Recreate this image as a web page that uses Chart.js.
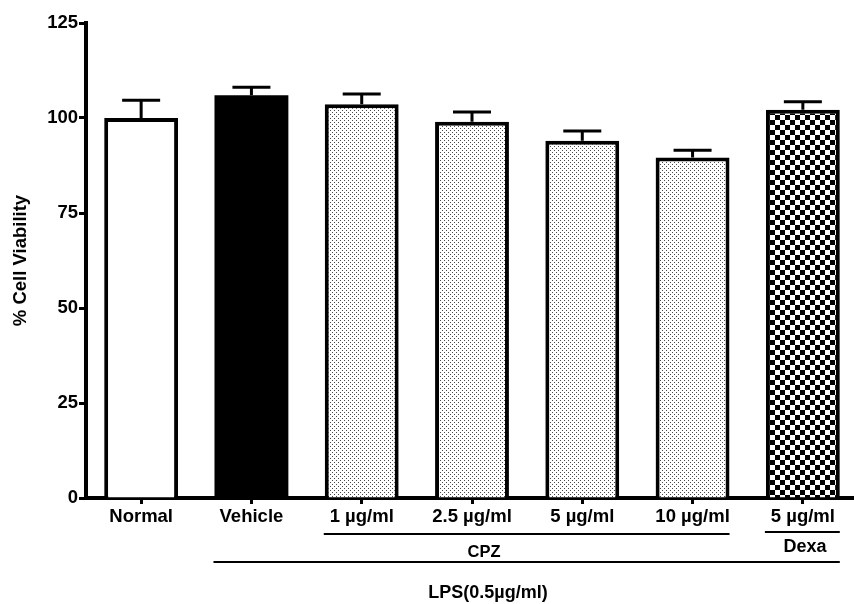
<!DOCTYPE html>
<html>
<head>
<meta charset="utf-8">
<script src="https://cdn.jsdelivr.net/npm/chart.js@4.4.0/dist/chart.umd.min.js"></script>
<style>
  html, body { margin: 0; padding: 0; background: #fff; overflow: hidden; width: 854px; height: 604px; }
  canvas { display: block; }
</style>
</head>
<body>
<canvas id="c" width="858" height="604"></canvas>
<script>
const categories = ["Normal", "Vehicle", "1 \u00b5g/ml", "2.5 \u00b5g/ml", "5 \u00b5g/ml", "10 \u00b5g/ml", "5 \u00b5g/ml"];
const viability = [100, 106, 103.6, 99, 94, 89.6, 102.2];
const errors = [4.7, 2.1, 2.7, 2.6, 2.6, 1.9, 2.1];
const yTicks = [0, 25, 50, 75, 100, 125];
const groupCPZ = { label: "CPZ", from: 2, to: 5 };
const groupDexa = { label: "Dexa", from: 6, to: 6 };
const groupLPS = { label: "LPS(0.5\u00b5g/ml)", from: 1, to: 6 };

const FONT = '"Liberation Sans", Arial, sans-serif';
const FS = 18.5;

function makeDots() {
  const c = document.createElement('canvas');
  c.width = 4; c.height = 4;
  const x = c.getContext('2d');
  x.fillStyle = '#fff'; x.fillRect(0, 0, 4, 4);
  x.fillStyle = '#4a4a4a';
  x.fillRect(0, 0, 1, 1);
  x.fillRect(2, 2, 1, 1);
  return x.createPattern(c, 'repeat');
}
function makeChecker() {
  const c = document.createElement('canvas');
  c.width = 10; c.height = 10;
  const x = c.getContext('2d');
  x.fillStyle = '#fff'; x.fillRect(0, 0, 10, 10);
  x.fillStyle = '#000';
  x.fillRect(0, 0, 5, 5);
  x.fillRect(5, 5, 5, 5);
  return x.createPattern(c, 'repeat');
}
const dots = makeDots();
const checker = makeChecker();
const fills = ['#ffffff', '#000000', dots, dots, dots, dots, checker];

const errorBars = {
  id: 'errorBars',
  afterDatasetsDraw(chart) {
    const ctx = chart.ctx;
    const meta = chart.getDatasetMeta(0);
    const ys = chart.scales.y;
    ctx.save();
    ctx.strokeStyle = '#000';
    ctx.lineWidth = 3;
    meta.data.forEach((bar, i) => {
      const top = ys.getPixelForValue(viability[i]);
      const hi = ys.getPixelForValue(viability[i] + errors[i]);
      ctx.beginPath();
      ctx.moveTo(bar.x, top);
      ctx.lineTo(bar.x, hi);
      ctx.moveTo(bar.x - 19, hi);
      ctx.lineTo(bar.x + 19, hi);
      ctx.stroke();
    });
    ctx.restore();
  }
};

const groups = {
  id: 'groups',
  afterDraw(chart) {
    const ctx = chart.ctx;
    const meta = chart.getDatasetMeta(0);
    const left = i => meta.data[i].x - meta.data[i].width / 2;
    const right = i => meta.data[i].x + meta.data[i].width / 2;
    ctx.save();
    ctx.strokeStyle = '#000';
    ctx.fillStyle = '#000';
    ctx.lineWidth = 2;
    ctx.textAlign = 'center';
    ctx.textBaseline = 'middle';
    const line = (g, y) => {
      ctx.beginPath();
      ctx.moveTo(left(g.from) - 1, y);
      ctx.lineTo(right(g.to), y);
      ctx.stroke();
    };
    line(groupCPZ, 534);
    line(groupDexa, 532);
    line(groupLPS, 562);
    ctx.font = 'bold 16.5px ' + FONT;
    ctx.fillText(groupCPZ.label, 484, 552);
    ctx.font = 'bold 18px ' + FONT;
    ctx.fillText(groupDexa.label, 805, 547);
    ctx.fillText(groupLPS.label, 488, 593);
    ctx.restore();
  }
};

new Chart(document.getElementById('c'), {
  type: 'bar',
  data: {
    labels: categories,
    datasets: [{
      data: viability,
      backgroundColor: fills,
      borderColor: '#000',
      borderWidth: [4, 0, 4, 4, 4, 4, 4],
      borderSkipped: 'bottom',
      barPercentage: 0.67,
      categoryPercentage: 1.0
    }]
  },
  options: {
    responsive: false,
    animation: false,
    devicePixelRatio: 1,
    layout: { padding: { top: 23, left: 0, right: 0, bottom: 0 } },
    plugins: { legend: { display: false }, tooltip: { enabled: false } },
    scales: {
      x: {
        offset: true,
        grid: { display: true, drawOnChartArea: false, drawTicks: true, offset: false, tickLength: 6, tickWidth: 3, tickColor: '#000' },
        border: { display: true, color: '#000', width: 4 },
        ticks: { color: '#000', font: { family: FONT, size: FS, weight: 'bold' }, padding: 2, maxRotation: 0, autoSkip: false },
        afterFit(s) { s.height = 106; }
      },
      y: {
        min: 0, max: 125,
        afterBuildTicks(s) { s.ticks = yTicks.map(v => ({ value: v })); },
        grid: { display: true, drawOnChartArea: false, drawTicks: true, tickLength: 7, tickWidth: 3, tickColor: '#000' },
        border: { display: true, color: '#000', width: 4 },
        ticks: { color: '#000', font: { family: FONT, size: FS, weight: 'bold' }, padding: 1 },
        title: { display: true, text: '% Cell Viability', color: '#000', font: { family: FONT, size: FS, weight: 'bold' }, padding: { top: 10, bottom: 4 } },
        afterFit(s) { s.width = 86; }
      }
    }
  },
  plugins: [errorBars, groups]
});
</script>
</body>
</html>
